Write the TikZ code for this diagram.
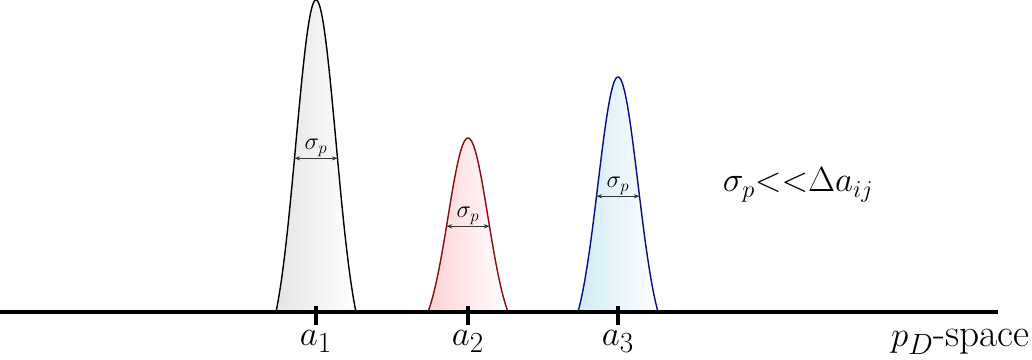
\documentclass[tikz,border=0pt]{standalone}
\usepackage{amsmath}
\usepackage{tikz}
\usepackage{xcolor}
\usetikzlibrary{arrows.meta,positioning,calc}
\definecolor{pkgray}{HTML}{D9D9D9}
\definecolor{pkred}{HTML}{8B0A0A}
\definecolor{pkredfill}{HTML}{FFD2D6}
\definecolor{pkblue}{HTML}{0A0A8C}
\definecolor{pkbluefill}{HTML}{D2EAF4}
\definecolor{sigarrow}{HTML}{333333}
\tikzset{
  declare function = {bump(\t) = (exp(-\t*\t/800)-exp(-2))/(1-exp(-2));},
  peakline/.style  = {line width=1pt},
  axisline/.style  = {line width=2.6pt},
  tickmark/.style  = {line width=3pt},
  siglabel/.style  = {font=\fontsize{18}{20}\selectfont, inner sep=1pt, anchor=south},
  ticklabel/.style = {font=\fontsize{31}{33}\selectfont, inner sep=0pt, anchor=base},
  sigwidth/.style  = {{Stealth[length=4pt,width=3pt]}-{Stealth[length=4pt,width=3pt]},
                       line width=0.6pt, sigarrow},
}

\begin{document}
\begin{tikzpicture}[x=0.025cm, y=0.025cm]
\useasboundingbox (0,-48) rectangle (1032,312);

% peaks
\fill[left color=pkgray!70, right color=white]
  plot[domain=-40:40, samples=80] ({316+\x}, {312*bump(\x)}) -- cycle;
\draw[peakline, black]
  plot[domain=-40:40, samples=80] ({316+\x}, {312*bump(\x)});
\fill[left color=pkredfill, right color=white]
  plot[domain=-40:40, samples=80] ({468+\x}, {174*bump(\x)}) -- cycle;
\draw[peakline, pkred]
  plot[domain=-40:40, samples=80] ({468+\x}, {174*bump(\x)});
\fill[left color=pkbluefill, right color=white]
  plot[domain=-40:40, samples=80] ({618+\x}, {235*bump(\x)}) -- cycle;
\draw[peakline, pkblue]
  plot[domain=-40:40, samples=80] ({618+\x}, {235*bump(\x)});

% widths
\coordinate (w1l) at ({316-21.5}, {312*bump(21.5)});
\coordinate (w1r) at ({316+21.5}, {312*bump(21.5)});
\coordinate (w2l) at ({468-21.5}, {174*bump(21.5)});
\coordinate (w2r) at ({468+21.5}, {174*bump(21.5)});
\coordinate (w3l) at ({618-21.5}, {235*bump(21.5)});
\coordinate (w3r) at ({618+21.5}, {235*bump(21.5)});
\draw[sigwidth] (w1l) -- (w1r);
\draw[sigwidth] (w2l) -- (w2r);
\draw[sigwidth] (w3l) -- (w3r);
\node[siglabel] (s1) at ($(w1l)!0.5!(w1r)$) {$\sigma_p$};
\node[siglabel] (s2) at ($(w2l)!0.5!(w2r)$) {$\sigma_p$};
\node[siglabel] (s3) at ($(w3l)!0.5!(w3r)$) {$\sigma_p$};

% axis
\coordinate (ax0) at (0,0);
\coordinate (ax1) at (998,0);
\draw[axisline] (ax0) -- (ax1);
\coordinate (t1) at (316,0);
\coordinate (t2) at (468,0);
\coordinate (t3) at (618,0);
\draw[tickmark] ($(t1)+(0,6)$) -- ($(t1)+(0,-13)$);
\draw[tickmark] ($(t2)+(0,6)$) -- ($(t2)+(0,-13)$);
\draw[tickmark] ($(t3)+(0,6)$) -- ($(t3)+(0,-13)$);
\node[ticklabel] (a1) at (316,-34) {$a_1$};
\node[ticklabel] (a2) at (468,-34) {$a_2$};
\node[ticklabel] (a3) at (618,-34) {$a_3$};
\node[ticklabel, anchor=base east, font=\fontsize{28}{30}\selectfont] (space) at (1030,-35) {$p_D$-space};

\node[font=\fontsize{23.5}{27}\selectfont] (cond) at (798,127) {$\sigma_p{<<}\Delta a_{ij}$};
\end{tikzpicture}
\end{document}
